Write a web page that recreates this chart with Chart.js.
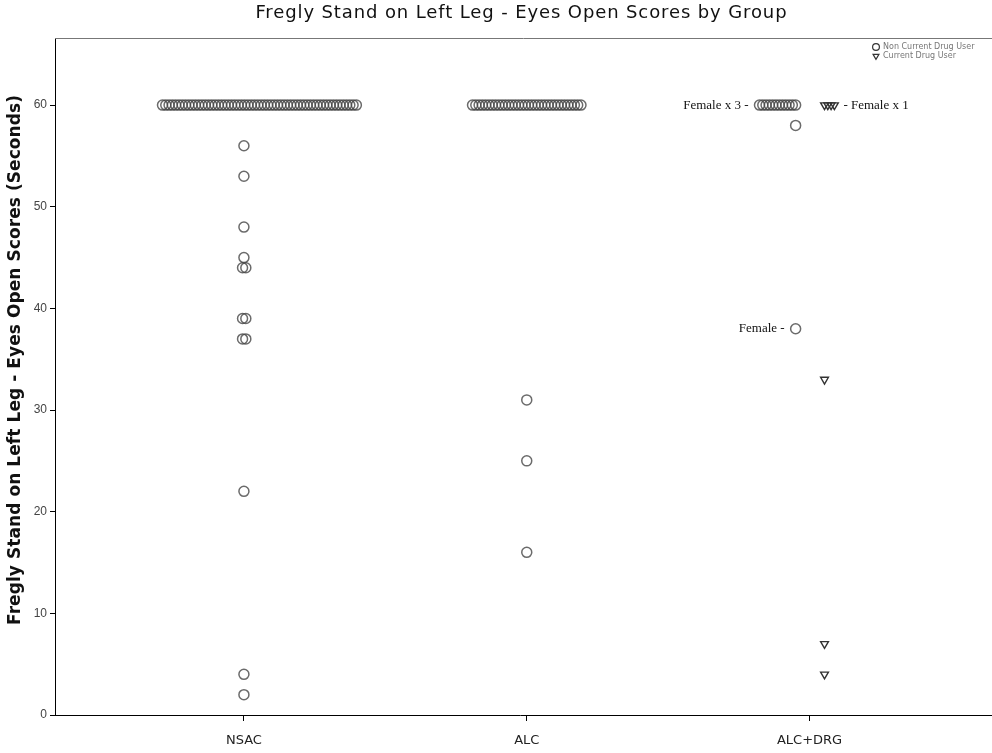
<!DOCTYPE html>
<html>
<head>
<meta charset="utf-8">
<script src="https://cdn.jsdelivr.net/npm/chart.js@4"></script>
<style>
  html, body { margin: 0; padding: 0; background: #fff; }
  #wrap { width: 992px; height: 753px; }
</style>
</head>
<body>
<div id="wrap"><canvas id="scoreChart" width="992" height="753"></canvas></div>
<script>
const groups = ["NSAC", "ALC", "ALC+DRG"];
const yTicks = [0, 10, 20, 30, 40, 50, 60];

// non current drug users: score + how many people got it
const nsacScores = [60, 56, 53, 48, 45, 44, 39, 37, 22, 4, 2];
const nsacCounts = [60, 1, 1, 1, 1, 2, 2, 2, 1, 1, 1];
const alcScores = [60, 31, 25, 16];
const alcCounts = [34, 1, 1, 1];
const drgScores = [60, 58, 38];
const drgCounts = [12, 1, 1];
// current drug users (ALC+DRG only)
const drgUserScores = [60, 33, 7, 4];
const drgUserCounts = [4, 1, 1, 1];

const chartTitle = "Fregly Stand on Left Leg - Eyes Open Scores by Group";
const yTitle = "Fregly Stand on Left Leg - Eyes Open Scores (Seconds)";

const notes = [
  { text: "Female x 3 -", series: 0, group: 3, value: 60, side: "left" },
  { text: "- Female x 1", series: 1, group: 3, value: 60, side: "right" },
  { text: "Female -", series: 0, group: 3, value: 38, side: "left" }
];

const X_MIN = 0.332, X_MAX = 3.622;
const PX = 284;     // pixels per group unit
const GAP = 3.3;    // spacing of stacked dots (px)

// repeated scores are stacked side by side
function stack(group, scores, counts, anchorPx, skew) {
  const pts = [];
  scores.forEach((s, i) => {
    const n = counts[i];
    for (let k = 0; k < n; k++) {
      const off = anchorPx + (k - skew * (n - 1)) * GAP;
      pts.push({ x: group + off / PX, y: s, g: group });
    }
  });
  return pts;
}

const nonUsers = [].concat(
  stack(1, nsacScores, nsacCounts, 0, 0.42),
  stack(2, alcScores, alcCounts, 0, 0.5),
  stack(3, drgScores, drgCounts, -14, 1)
);
const users = stack(3, drgUserScores, drgUserCounts, 15, 0);

// text stretched to a given width (the source font is wide)
function spacedText(ctx, text, x, y, width) {
  ctx.letterSpacing = "0px";
  const w = ctx.measureText(text).width;
  const sp = Math.max(0, (width - w) / text.length);
  ctx.letterSpacing = sp + "px";
  ctx.fillText(text, x + sp / 2, y);
  ctx.letterSpacing = "0px";
}

const framePlugin = {
  id: "frame",
  afterDraw(chart) {
    const { ctx, chartArea: a } = chart;
    ctx.save();
    ctx.fillStyle = "#111";
    ctx.textAlign = "center";
    ctx.textBaseline = "middle";
    ctx.font = "18px 'DejaVu Sans'";
    spacedText(ctx, chartTitle, 521, 13, 532);

    ctx.translate(16, 360);
    ctx.rotate(-Math.PI / 2);
    ctx.font = "bold 17px 'DejaVu Sans'";
    spacedText(ctx, yTitle, 0, 0, 530);
    ctx.restore();

    // top frame line and the run of the x axis to the edge
    ctx.save();
    ctx.lineWidth = 1;
    ctx.strokeStyle = "#777";
    ctx.beginPath();
    ctx.moveTo(a.left, a.top + 0.5);
    ctx.lineTo(chart.width, a.top + 0.5);
    ctx.stroke();
    ctx.strokeStyle = "#000";
    ctx.beginPath();
    ctx.moveTo(a.right - 1, a.bottom + 0.5);
    ctx.lineTo(chart.width, a.bottom + 0.5);
    ctx.stroke();
    ctx.restore();
  }
};

const notePlugin = {
  id: "notes",
  afterDatasetsDraw(chart) {
    const ctx = chart.ctx;
    ctx.save();
    ctx.font = "13px 'Liberation Serif'";
    ctx.fillStyle = "#111";
    ctx.textBaseline = "middle";
    notes.forEach(n => {
      const meta = chart.getDatasetMeta(n.series);
      const src = chart.data.datasets[n.series].data;
      let minX = Infinity, maxX = -Infinity, y = 0;
      meta.data.forEach((el, i) => {
        if (src[i].g === n.group && src[i].y === n.value) {
          minX = Math.min(minX, el.x);
          maxX = Math.max(maxX, el.x);
          y = el.y;
        }
      });
      if (n.side === "left") {
        ctx.textAlign = "right";
        ctx.fillText(n.text, minX - 11, y);
      } else {
        ctx.textAlign = "left";
        ctx.fillText(n.text, maxX + 9, y);
      }
    });
    ctx.restore();
  }
};

const legendPlugin = {
  id: "cornerLegend",
  afterDraw(chart) {
    const { ctx, chartArea: a } = chart;
    ctx.save();
    ctx.textBaseline = "middle";
    chart.data.datasets.forEach((ds, i) => {
      const x = 876, y = a.top + 9 + i * 9;
      ctx.fillStyle = "#fff";
      ctx.strokeStyle = "#333";
      ctx.lineWidth = 1.2;
      Chart.helpers.drawPoint(ctx, {
        pointStyle: ds.pointStyle, radius: 3.4, rotation: ds.rotation || 0,
        borderWidth: 1.2
      }, x, y);
      ctx.font = "8px 'DejaVu Sans'";
      ctx.fillStyle = "#777";
      ctx.fillText(ds.label, x + 7, y);
    });
    ctx.restore();
  }
};

new Chart(document.getElementById("scoreChart"), {
  type: "scatter",
  data: {
    datasets: [
      {
        label: "Non Current Drug User",
        data: nonUsers,
        pointStyle: "circle",
        pointRadius: 5,
        borderWidth: 1.5,
        borderColor: "rgba(70, 70, 70, 0.8)",
        backgroundColor: "rgba(255, 255, 255, 0)"
      },
      {
        label: "Current Drug User",
        data: users,
        pointStyle: "triangle",
        rotation: 180,
        pointRadius: 4.5,
        borderWidth: 1.4,
        borderColor: "#333",
        backgroundColor: "rgba(255, 255, 255, 0)"
      }
    ]
  },
  options: {
    responsive: false,
    animation: false,
    events: [],
    layout: { padding: { top: 38, right: 0, left: 0, bottom: 0 } },
    plugins: {
      legend: { display: false },
      tooltip: { enabled: false }
    },
    scales: {
      x: {
        type: "linear",
        min: X_MIN,
        max: X_MAX,
        afterBuildTicks: s => { s.ticks = groups.map((g, i) => ({ value: i + 1 })); },
        afterFit: s => { s.height = 38; },
        grid: { drawOnChartArea: false, drawTicks: true, tickLength: 6, color: "#000" },
        border: { color: "#000", width: 1 },
        ticks: {
          autoSkip: false,
          maxRotation: 0,
          padding: 12,
          color: "#222",
          font: { family: "'DejaVu Sans'", size: 13 },
          callback: v => groups[v - 1]
        }
      },
      y: {
        min: 0,
        max: 66.6,
        afterBuildTicks: s => { s.ticks = yTicks.map(v => ({ value: v })); },
        afterFit: s => { s.width = 55; },
        grid: { drawOnChartArea: false, drawTicks: true, tickLength: 5, color: "#000" },
        border: { color: "#000", width: 1 },
        ticks: {
          padding: 3,
          color: "#444",
          font: { family: "'Liberation Sans'", size: 12 }
        }
      }
    }
  },
  plugins: [framePlugin, notePlugin, legendPlugin]
});
</script>
</body>
</html>
